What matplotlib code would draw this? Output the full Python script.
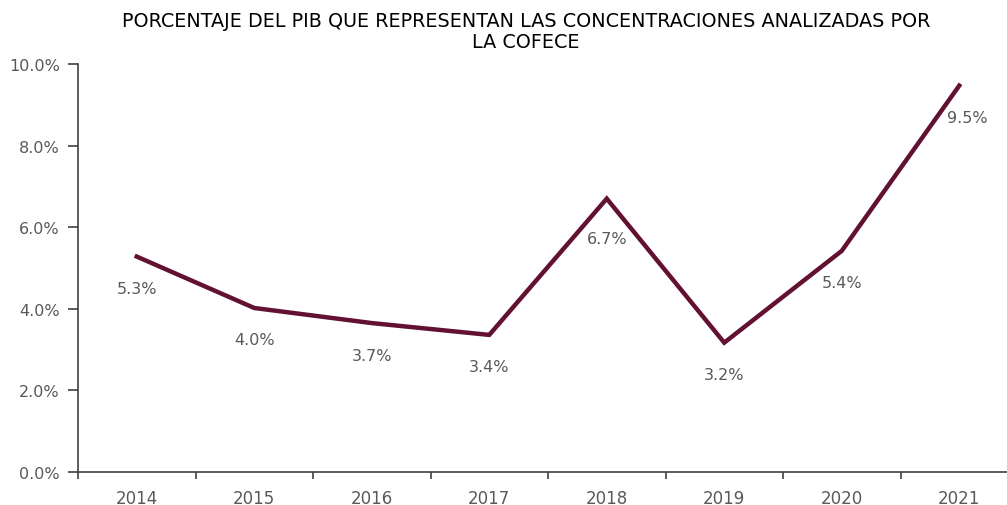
import matplotlib
matplotlib.use("Agg")
from matplotlib import pyplot as plt
from matplotlib.ticker import FuncFormatter, FixedLocator
import numpy as np

years = ["2014", "2015", "2016", "2017", "2018", "2019", "2020", "2021"]
pib_pct = [5.28, 4.02, 3.65, 3.36, 6.70, 3.17, 5.42, 9.47]
pib_labels = ["5.3%", "4.0%", "3.7%", "3.4%", "6.7%", "3.2%", "5.4%", "9.5%"]
title = "PORCENTAJE DEL PIB QUE REPRESENTAN LAS CONCENTRACIONES ANALIZADAS POR\nLA COFECE"

plt.rcParams['font.family'] = ['DejaVu Sans']

fig = plt.figure(figsize=(10.07, 5.06), dpi=100)
ax = fig.add_axes([78 / 1007, 1 - 473 / 506, 940 / 1007, (473 - 65) / 506])

x = np.arange(len(years))
ax.plot(x, pib_pct, color='#621132', linewidth=3.2, solid_joinstyle='miter')

for xi, yi, lab in zip(x, pib_pct, pib_labels):
    dx = 6 if xi == len(years) - 1 else 0
    dy = -29 if xi == 4 else -23
    ax.annotate(lab, (xi, yi), xytext=(dx, dy), textcoords='offset points',
                ha='center', va='center', fontsize=11.5, color='#595959')

ax.set_xlim(-0.5, len(years) - 0.5)
ax.set_ylim(0, 10)
ax.set_yticks(np.arange(0, 10.1, 2))
ax.yaxis.set_major_formatter(FuncFormatter(lambda v, p: f"{v:.1f}%"))
ax.set_xticks(x)
ax.set_xticklabels(years)
ax.xaxis.set_minor_locator(FixedLocator(np.arange(-0.5, len(years), 1)))
ax.tick_params(axis='x', which='major', length=0, pad=12, labelsize=12, labelcolor='#595959')
ax.tick_params(axis='x', which='minor', length=5, color='#404040', width=1.2)
ax.tick_params(axis='y', length=7, color='#404040', width=1.2, labelsize=11.5,
               labelcolor='#595959', pad=6)
for s in ['top', 'right']:
    ax.spines[s].set_visible(False)
for s in ['left', 'bottom']:
    ax.spines[s].set_color('#404040')
    ax.spines[s].set_linewidth(1.2)

fig.text(526 / 1007, 1 - 32 / 506, title, ha='center', va='center',
         fontsize=13.8, color='black', linespacing=1.15)

fig.savefig("out.png", dpi=100)
